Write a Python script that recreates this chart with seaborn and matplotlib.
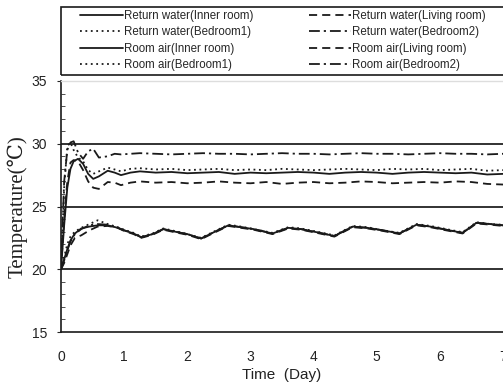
import matplotlib
matplotlib.use("Agg")
import matplotlib.pyplot as plt
from matplotlib.patches import Rectangle
import seaborn as sns
import pandas as pd

# ---------------- data ----------------
time_rw = [0, 0.05, 0.1, 0.15, 0.2, 0.27, 0.35, 0.43, 0.51, 0.6, 0.74, 0.85, 0.95,
           1.1, 1.25, 1.5, 1.75, 2.0, 2.25, 2.5, 2.75, 3.0, 3.25, 3.5, 3.75, 4.0,
           4.25, 4.5, 4.75, 5.0, 5.25, 5.5, 5.75, 6.0, 6.25, 6.5, 6.75, 7.0]

rw_inner = [20.0, 23.5, 26.5, 28.0, 28.6, 28.8, 28.4, 27.6, 27.2, 27.4, 27.85, 27.7, 27.5,
            27.7, 27.8, 27.7, 27.75, 27.65, 27.7, 27.75, 27.6, 27.7, 27.65, 27.7, 27.75, 27.7,
            27.6, 27.7, 27.75, 27.7, 27.6, 27.7, 27.75, 27.7, 27.65, 27.7, 27.55, 27.6]
rw_bed1 = [20.0, 26.5, 29.8, 30.1, 29.5, 28.9, 28.6, 27.9, 27.6, 27.8, 28.1, 27.95, 27.8,
           28.0, 28.05, 27.95, 28.0, 27.9, 27.95, 28.0, 27.9, 27.95, 27.9, 28.0, 27.95, 27.9,
           27.95, 28.0, 27.95, 27.9, 28.0, 27.95, 28.0, 27.9, 27.95, 28.0, 27.85, 27.9]
rw_living = [20.0, 24.0, 27.0, 28.5, 28.7, 28.6, 27.9, 27.0, 26.5, 26.4, 26.95, 26.9, 26.7,
             26.9, 27.0, 26.9, 26.95, 26.85, 26.9, 27.0, 26.9, 26.85, 26.95, 26.8, 26.9, 26.95,
             26.85, 26.9, 27.0, 26.95, 26.85, 26.9, 26.95, 26.9, 27.0, 26.95, 26.8, 26.75]
rw_bed2 = [20.0, 27.0, 29.5, 30.1, 30.2, 29.3, 28.8, 29.4, 29.6, 28.9, 29.0, 29.2, 29.15,
           29.2, 29.25, 29.2, 29.15, 29.2, 29.25, 29.2, 29.2, 29.15, 29.2, 29.25, 29.2, 29.2,
           29.15, 29.2, 29.25, 29.2, 29.2, 29.15, 29.2, 29.25, 29.2, 29.2, 29.15, 29.2]

time_ra = [0, 0.05, 0.1, 0.15, 0.22, 0.32, 0.45, 0.58, 0.74, 0.9, 1.0, 1.15, 1.27,
           1.45, 1.62, 1.8, 2.0, 2.22, 2.4, 2.65, 2.85, 3.05, 3.35, 3.6, 3.8, 4.05,
           4.33, 4.62, 4.85, 5.1, 5.36, 5.63, 5.85, 6.1, 6.36, 6.58, 6.8, 7.0]

ra_inner = [20.0, 20.8, 21.6, 22.3, 22.85, 23.25, 23.4, 23.5, 23.5, 23.3, 23.1, 22.85, 22.55,
            22.8, 23.2, 23.0, 22.8, 22.45, 22.9, 23.5, 23.35, 23.2, 22.85, 23.3, 23.2, 22.95,
            22.65, 23.4, 23.3, 23.1, 22.85, 23.55, 23.4, 23.15, 22.9, 23.7, 23.6, 23.5]
ra_bed1 = [20.0, 21.0, 22.0, 22.6, 23.0, 23.3, 23.6, 23.9, 23.6, 23.35, 23.15, 22.9, 22.6,
           22.85, 23.25, 23.05, 22.8, 22.5, 22.95, 23.55, 23.4, 23.2, 22.9, 23.35, 23.25, 23.0,
           22.7, 23.45, 23.35, 23.1, 22.9, 23.6, 23.45, 23.2, 22.95, 23.75, 23.6, 23.55]
ra_living = [20.0, 20.5, 21.2, 21.9, 22.5, 22.7, 23.1, 23.4, 23.45, 23.3, 23.05, 22.8, 22.5,
             22.75, 23.15, 22.95, 22.75, 22.4, 22.85, 23.45, 23.3, 23.15, 22.8, 23.25, 23.15, 22.9,
             22.6, 23.35, 23.25, 23.05, 22.8, 23.5, 23.35, 23.1, 22.85, 23.65, 23.55, 23.45]
ra_bed2 = [20.0, 20.7, 21.5, 22.2, 22.8, 23.2, 23.5, 23.6, 23.55, 23.3, 23.1, 22.85, 22.55,
           22.8, 23.2, 23.0, 22.8, 22.45, 22.9, 23.5, 23.35, 23.2, 22.85, 23.3, 23.2, 22.95,
           22.65, 23.4, 23.3, 23.1, 22.85, 23.55, 23.4, 23.15, 22.9, 23.7, 23.6, 23.5]

labels = ["Return water(Inner room)", "Return water(Bedroom1)",
          "Room air(Inner room)", "Room air(Bedroom1)",
          "Return water(Living room)", "Return water(Bedroom2)",
          "Room air(Living room)", "Room air(Bedroom2)"]

x_ticks = [0, 1, 2, 3, 4, 5, 6, 7]
y_ticks = [15, 20, 25, 30, 35]
grid_levels = [20, 25, 30]

# ---------------- styles ----------------
SOLID = "-"
DOTTED = (0, (1.0, 2.0))
DASHED = (0, (4.5, 2.8))
DASHDOT = (0, (6.0, 2.2, 1.2, 2.2))

series = [
    (time_rw, rw_inner, labels[0], SOLID),
    (time_rw, rw_bed1, labels[1], DOTTED),
    (time_ra, ra_inner, labels[2], SOLID),
    (time_ra, ra_bed1, labels[3], DOTTED),
    (time_rw, rw_living, labels[4], DASHED),
    (time_rw, rw_bed2, labels[5], DASHDOT),
    (time_ra, ra_living, labels[6], DASHED),
    (time_ra, ra_bed2, labels[7], DASHDOT),
]

sns.set_style("white")
plt.rcParams["font.family"] = ["Liberation Sans", "DejaVu Sans"]

W, H = 503, 389
fig = plt.figure(figsize=(W / 100, H / 100), dpi=100)
ax = fig.add_axes([61 / W, 1 - 332 / H, (503 - 61) / W, (332 - 81) / H])

for lvl in grid_levels:
    ax.axhline(lvl, color="#222222", lw=1.3, zorder=1)

handles = []
for xs, ys, lab, ls in series:
    df = pd.DataFrame({"Time": xs, "Temp": ys})
    sns.lineplot(data=df, x="Time", y="Temp", ax=ax, color="#1a1a1a",
                 linestyle=ls, linewidth=1.3, label=lab, legend=False, zorder=3)
    handles.append(ax.lines[-1])

ax.set_xlim(0, 7)
ax.set_ylim(15, 35)
ax.set_xticks(x_ticks)
ax.set_yticks(y_ticks)
ax.set_yticks(range(15, 36), minor=True)
ax.tick_params(axis="x", length=0, pad=13, labelsize=10, labelcolor="#222222")
ax.tick_params(axis="y", which="major", length=3, direction="out", pad=7,
               labelsize=10, labelcolor="#222222", left=True)
ax.tick_params(axis="y", which="minor", length=3, direction="in", left=True, color="#333333")

for side in ["left", "bottom"]:
    ax.spines[side].set_color("#1a1a1a")
    ax.spines[side].set_linewidth(1.2)
ax.spines["top"].set_color("#dddddd")
ax.spines["top"].set_linewidth(1.0)
ax.spines["right"].set_visible(False)

ax.set_xlabel("Time  (Day)", fontsize=11, color="#222222", labelpad=3)
ax.set_ylabel("Temperature(℃)", fontsize=15, color="#222222",
              family=["Liberation Serif", "DejaVu Serif"], labelpad=3)

# legend box
box = Rectangle((61 / W, 1 - 75 / H), 1.0, (75 - 7) / H, transform=fig.transFigure,
                fill=False, edgecolor="#1a1a1a", linewidth=1.2, clip_on=False)
fig.patches.append(box)

fig.legend(handles=handles, labels=labels, ncol=2, loc="upper left",
           bbox_to_anchor=(80 / W, 1 - 10 / H), frameon=False, fontsize=8.3,
           handlelength=3.7, handletextpad=0.1, columnspacing=4.8,
           labelspacing=0.38, borderpad=0.0, borderaxespad=0.0)

fig.savefig("out.png", dpi=100)
